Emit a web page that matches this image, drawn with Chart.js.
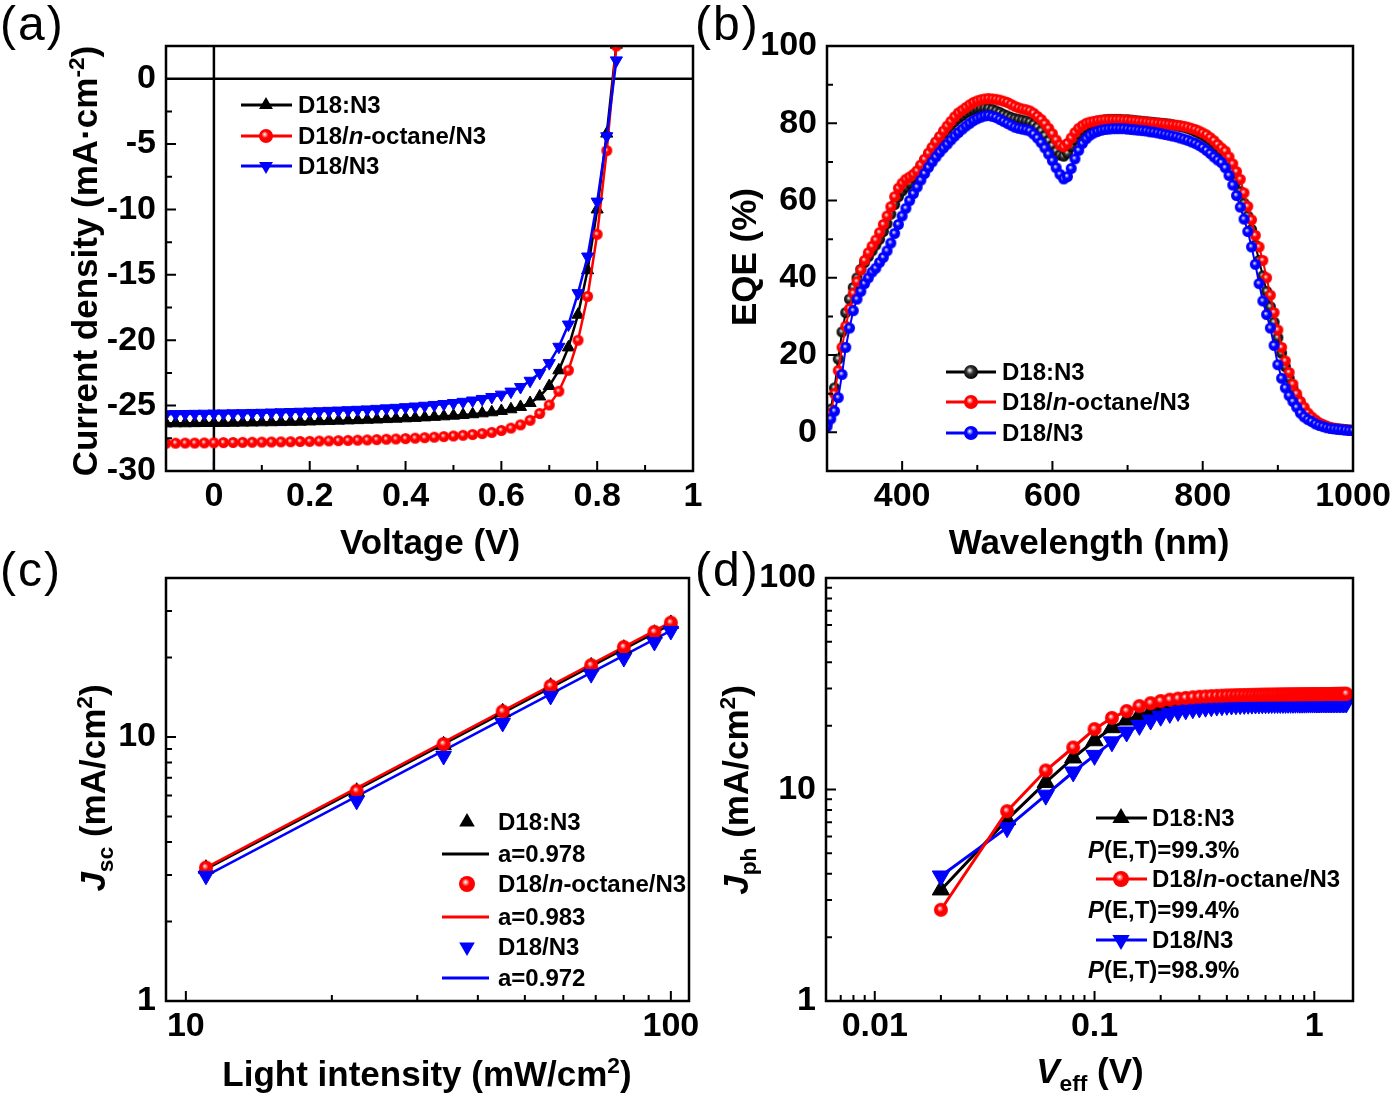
<!DOCTYPE html>
<html>
<head>
<meta charset="utf-8">
<script src="https://cdn.jsdelivr.net/npm/chart.js@4.4.0/dist/chart.umd.min.js"></script>
<style>
body { margin: 0; background: #fff; }
#fig { position: relative; width: 1396px; height: 1098px; overflow: hidden; font-family: "Liberation Sans", Arial, sans-serif; color: #000; }
canvas { position: absolute; }
.t { position: absolute; white-space: nowrap; font-weight: bold; font-size: 35px; line-height: 1; transform: translate(-50%, -50%); }
.r { transform: translate(-50%, -50%) rotate(-90deg); }
.lab { position: absolute; font-size: 48px; line-height: 1; letter-spacing: 2px; }
.lg { position: absolute; white-space: nowrap; font-weight: bold; font-size: 24px; line-height: 1; transform: translateY(-50%); }
sub, sup { font-size: 0.65em; line-height: 0; }
#sym { position: absolute; left: 0; top: 0; }
</style>
</head>
<body>
<div id="fig">
  <canvas id="cA"></canvas>
  <canvas id="cB"></canvas>
  <canvas id="cC"></canvas>
  <canvas id="cD"></canvas>
  <svg id="sym" width="1396" height="1098"></svg>

  <div class="lab" style="left:0px;top:0px">(a)</div>
  <div class="lab" style="left:695px;top:0px">(b)</div>
  <div class="lab" style="left:0px;top:546px">(c)</div>
  <div class="lab" style="left:695px;top:546px">(d)</div>

  <div class="t r" style="left:84px;top:261px">Current density (mA·cm<sup>-2</sup>)</div>
  <div class="t" style="left:430px;top:541px">Voltage (V)</div>
  <div class="t r" style="left:743px;top:257px">EQE (%)</div>
  <div class="t" style="left:1089px;top:541px">Wavelength (nm)</div>
  <div class="t r" style="left:92px;top:788px"><i>J</i><sub>sc</sub> (mA/cm<sup>2</sup>)</div>
  <div class="t" style="left:427px;top:1073px">Light intensity (mW/cm<sup>2</sup>)</div>
  <div class="t r" style="left:735px;top:790px"><i>J</i><sub>ph</sub> (mA/cm<sup>2</sup>)</div>
  <div class="t" style="left:1090px;top:1070px"><i>V</i><sub>eff</sub> (V)</div>
</div>
<script>
// (a) J-V curves
const voltage = [-0.10, -0.08, -0.06, -0.04, -0.02, 0, 0.02, 0.04, 0.06, 0.08,
  0.10, 0.12, 0.14, 0.16, 0.18, 0.20, 0.22, 0.24, 0.26, 0.28,
  0.30, 0.32, 0.34, 0.36, 0.38, 0.40, 0.42, 0.44, 0.46, 0.48,
  0.50, 0.52, 0.54, 0.56, 0.58, 0.60, 0.62, 0.64, 0.66, 0.68,
  0.70, 0.72, 0.74, 0.76, 0.78, 0.80, 0.82, 0.84];
const jvBlack = [-26.36, -26.35, -26.35, -26.34, -26.33, -26.33, -26.32, -26.31, -26.30, -26.29,
  -26.28, -26.27, -26.26, -26.24, -26.23, -26.21, -26.19, -26.17, -26.15, -26.13,
  -26.11, -26.08, -26.06, -26.03, -26.00, -25.97, -25.94, -25.90, -25.86, -25.82,
  -25.77, -25.72, -25.66, -25.59, -25.51, -25.41, -25.28, -25.10, -24.80, -24.30,
  -23.50, -22.30, -20.55, -18.05, -14.65, -10.00, -4.20, 2.60];
const jvRed = [-27.88, -27.87, -27.86, -27.86, -27.85, -27.84, -27.83, -27.82, -27.81, -27.80,
  -27.79, -27.78, -27.77, -27.76, -27.74, -27.73, -27.71, -27.70, -27.68, -27.66,
  -27.64, -27.62, -27.60, -27.57, -27.55, -27.52, -27.49, -27.45, -27.41, -27.37,
  -27.32, -27.27, -27.21, -27.14, -27.05, -26.90, -26.72, -26.47, -26.12, -25.60,
  -24.95, -23.90, -22.30, -20.00, -16.65, -11.90, -5.50, 2.50];
const jvBlue = [-25.66, -25.65, -25.64, -25.63, -25.62, -25.61, -25.60, -25.59, -25.58, -25.56,
  -25.55, -25.53, -25.51, -25.49, -25.47, -25.45, -25.43, -25.40, -25.38, -25.35,
  -25.32, -25.29, -25.25, -25.21, -25.17, -25.12, -25.07, -25.01, -24.95, -24.88,
  -24.80, -24.71, -24.61, -24.49, -24.34, -24.16, -23.93, -23.58, -23.10, -22.50,
  -21.75, -20.50, -18.80, -16.40, -13.60, -9.40, -4.40, 1.40];

// (b) EQE spectra
const wavelength = [300, 305, 310, 315, 320, 325, 330, 335, 340, 345, 350, 355, 360, 365, 370, 375, 380, 385, 390, 395,
  400, 405, 410, 415, 420, 425, 430, 435, 440, 445, 450, 455, 460, 465, 470, 475, 480, 485, 490, 495,
  500, 505, 510, 515, 520, 525, 530, 535, 540, 545, 550, 555, 560, 565, 570, 575, 580, 585, 590, 595,
  600, 605, 610, 615, 620, 625, 630, 635, 640, 645, 650, 655, 660, 665, 670, 675, 680, 685, 690, 695,
  700, 705, 710, 715, 720, 725, 730, 735, 740, 745, 750, 755, 760, 765, 770, 775, 780, 785, 790, 795,
  800, 805, 810, 815, 820, 825, 830, 835, 840, 845, 850, 855, 860, 865, 870, 875, 880, 885, 890, 895,
  900, 905, 910, 915, 920, 925, 930, 935, 940, 945, 950, 955, 960, 965, 970, 975, 980, 985, 990, 995,
  1000];
const eqeBlack = [2.5, 6, 11.5, 19, 26, 31, 34.5, 37.5, 40, 42.2, 44, 45.5, 47, 48.5, 50, 52, 54, 56.5, 59, 61,
  62.5, 63.5, 64.5, 66, 67.5, 69, 70.5, 72, 73.5, 75, 76.2, 77.4, 78.5, 79.5, 80.5, 81.3, 82, 82.7, 83.2, 83.6,
  83.9, 84, 84, 83.9, 83.6, 83.2, 82.8, 82.3, 81.9, 81.5, 81.2, 81, 80.8, 80.6, 80.3, 79.7, 79, 78, 76.8, 75.5,
  74.2, 72.8, 71.8, 71.5, 72.3, 74, 75.8, 77.3, 78.4, 79.2, 79.8, 80.2, 80.5, 80.7, 80.9, 81, 81, 81, 81, 80.9,
  80.9, 80.8, 80.7, 80.6, 80.5, 80.4, 80.3, 80.2, 80.1, 80, 79.9, 79.8, 79.6, 79.4, 79.2, 79, 78.7, 78.3, 77.9, 77.4,
  76.9, 76.3, 75.6, 74.8, 73.8, 72.7, 71.5, 69.8, 67.5, 65, 62.3, 59.3, 56, 52.5, 48.5, 44.5, 40.5, 36.5, 32.5, 28.5,
  24.5, 20.5, 17, 14, 11.3, 9, 7, 5.6, 4.5, 3.6, 2.9, 2.3, 1.9, 1.5, 1.2, 1, 0.9, 0.8, 0.7, 0.6,
  0.5];
const eqeRed = [2, 5, 10, 16, 22, 27.5, 32, 36, 39, 42, 44.5, 46.5, 48.2, 49.8, 51.7, 53.8, 56, 58.4, 61, 63.2,
  64.5, 65.5, 66.1, 66.8, 67.7, 69.2, 70.7, 72.3, 73.8, 75.2, 76.6, 78, 79.3, 80.5, 81.7, 82.7, 83.4, 84.1, 84.8, 85.4,
  85.8, 86.1, 86.3, 86.4, 86.3, 86.2, 86, 85.7, 85.4, 84.9, 84.4, 84, 83.7, 83.5, 83.2, 82.6, 81.8, 81, 79.9, 78.7,
  77.3, 75.7, 74.4, 73.9, 74.8, 76.2, 77.6, 78.7, 79.4, 80, 80.3, 80.5, 80.7, 80.8, 80.9, 80.9, 80.9, 80.9, 80.9, 80.8,
  80.8, 80.7, 80.6, 80.5, 80.4, 80.3, 80.2, 80.1, 80, 79.9, 79.8, 79.7, 79.6, 79.5, 79.4, 79.2, 79, 78.7, 78.4, 78,
  77.5, 77, 76.3, 75.5, 74.5, 73.6, 72.8, 71.3, 69.5, 67.5, 65.5, 62, 58.5, 55, 51, 48, 44.5, 40, 35.5, 31,
  26.5, 22, 18.5, 15.5, 12.5, 10, 8, 6.5, 5, 4, 3.2, 2.5, 2, 1.6, 1.3, 1.1, 0.9, 0.8, 0.7, 0.6,
  0.5];
const eqeBlue = [1.5, 3.5, 5.5, 9, 15, 22, 27, 31.5, 34.5, 36.5, 38.5, 40, 41.5, 42.5, 44, 45.3, 47, 49, 51.5, 53.8,
  56, 58, 60, 61.8, 63.5, 65.3, 67, 68.6, 70, 71.3, 72.5, 73.6, 74.6, 75.7, 76.7, 77.6, 78.5, 79.3, 80, 80.7,
  81.2, 81.6, 81.9, 82, 81.8, 81.5, 81, 80.5, 80, 79.5, 79, 78.7, 78.5, 78.3, 78, 77.2, 76.2, 75, 73.6, 72,
  70.3, 68.5, 66.8, 65.6, 66.2, 68.3, 70.8, 73, 74.8, 76, 76.9, 77.5, 77.9, 78.2, 78.4, 78.5, 78.6, 78.6, 78.6, 78.6,
  78.5, 78.4, 78.3, 78.2, 78.1, 78, 77.8, 77.7, 77.5, 77.3, 77.1, 76.9, 76.7, 76.5, 76.2, 75.9, 75.6, 75.2, 74.8, 74.3,
  73.7, 73, 72.2, 71.3, 70.5, 69.8, 68.5, 66.5, 64, 61.3, 58.3, 55.2, 52, 48, 43.5, 38.5, 34, 30.5, 27, 22.5,
  17.5, 14, 11.5, 9.5, 8, 6.5, 5, 4, 3.3, 2.8, 2.2, 1.8, 1.5, 1.2, 1, 0.9, 0.8, 0.7, 0.6, 0.5,
  0.5];

// (c) Jsc vs light intensity
const lightIntensity = [11, 22.5, 34, 45, 56.5, 68.5, 80, 92.5, 100];
const jscBlack = [3.17, 6.2, 9.3, 12.4, 15.5, 18.5, 21.6, 24.6, 26.8];
const jscRed = [3.2, 6.25, 9.4, 12.5, 15.6, 18.7, 21.9, 25.0, 27.1];
const jscBlue = [2.98, 5.73, 8.47, 11.3, 14.3, 17.3, 19.9, 22.9, 25.2];
const fitX = [11, 100];
const fitBlack = [3.16, 26.7];
const fitRed = [3.2, 27.2];
const fitBlue = [2.98, 25.3];

// (d) Jph vs Veff
const veff = [0.02, 0.04, 0.06, 0.08, 0.10, 0.12, 0.14, 0.16, 0.18, 0.20,
  0.22, 0.24, 0.26, 0.28, 0.30, 0.32, 0.34, 0.36, 0.38, 0.40,
  0.42, 0.44, 0.46, 0.48, 0.50, 0.52, 0.54, 0.56, 0.58, 0.60,
  0.62, 0.64, 0.66, 0.68, 0.70, 0.72, 0.74, 0.76, 0.78, 0.80,
  0.82, 0.84, 0.86, 0.88, 0.90, 0.92, 0.94, 0.96, 0.98, 1.00,
  1.02, 1.04, 1.06, 1.08, 1.10, 1.12, 1.14, 1.16, 1.18, 1.20,
  1.22, 1.24, 1.26, 1.28, 1.30, 1.32, 1.34, 1.36, 1.38, 1.40];
const jphBlack = [3.35, 7.2, 10.8, 14.1, 17.0, 19.6, 21.3, 22.5, 23.4, 24.1,
  24.6, 25.0, 25.3, 25.6, 25.8, 26.0, 26.1, 26.2, 26.3, 26.4,
  26.45, 26.5, 26.54, 26.57, 26.6, 26.62, 26.64, 26.66, 26.68, 26.7,
  26.71, 26.72, 26.73, 26.74, 26.75, 26.76, 26.77, 26.78, 26.79, 26.8,
  26.8, 26.81, 26.82, 26.82, 26.83, 26.84, 26.84, 26.85, 26.85, 26.86,
  26.86, 26.87, 26.87, 26.88, 26.88, 26.89, 26.89, 26.9, 26.9, 26.9,
  26.91, 26.91, 26.92, 26.92, 26.93, 26.93, 26.94, 26.94, 26.95, 26.95];
const jphRed = [2.7, 7.9, 12.3, 15.8, 19.3, 21.8, 23.5, 24.8, 25.6, 26.2,
  26.6, 26.9, 27.1, 27.3, 27.45, 27.55, 27.65, 27.72, 27.78, 27.85,
  27.9, 27.93, 27.96, 27.99, 28.01, 28.03, 28.05, 28.07, 28.08, 28.1,
  28.11, 28.12, 28.13, 28.14, 28.15, 28.16, 28.17, 28.18, 28.19, 28.2,
  28.2, 28.21, 28.22, 28.22, 28.23, 28.24, 28.24, 28.25, 28.25, 28.26,
  28.26, 28.27, 28.27, 28.28, 28.28, 28.29, 28.29, 28.3, 28.3, 28.3,
  28.31, 28.31, 28.32, 28.32, 28.33, 28.33, 28.34, 28.34, 28.35, 28.35];
const jphBlue = [3.9, 6.6, 9.4, 12.1, 14.5, 16.8, 18.7, 20.1, 21.3, 22.2,
  22.9, 23.4, 23.8, 24.1, 24.3, 24.5, 24.65, 24.8, 24.9, 25.0,
  25.08, 25.14, 25.2, 25.25, 25.29, 25.33, 25.36, 25.39, 25.41, 25.43,
  25.45, 25.47, 25.48, 25.5, 25.51, 25.52, 25.53, 25.54, 25.55, 25.56,
  25.57, 25.58, 25.58, 25.59, 25.6, 25.6, 25.61, 25.62, 25.62, 25.63,
  25.63, 25.64, 25.64, 25.65, 25.65, 25.66, 25.66, 25.67, 25.67, 25.67,
  25.68, 25.68, 25.69, 25.69, 25.69, 25.7, 25.7, 25.7, 25.71, 25.71];

const FONT = '"Liberation Sans", Arial, sans-serif';
const BLACK = '#000000', RED = '#ff0000', BLUE = '#0000ff';
const PADTOP = 40, YW = 80, XH = 60;

const pts = (xs, ys) => xs.map((x, i) => ({x: x, y: ys[i]}));

// shaded ball used for the circle markers
function ball(color, r) {
  const c = document.createElement('canvas');
  const s = Math.ceil(2 * r + 2);
  c.width = c.height = s;
  const g = c.getContext('2d'), m = s / 2;
  const gr = g.createRadialGradient(m - r * 0.2, m - r * 0.25, 0, m, m, r);
  gr.addColorStop(0, '#ffffff');
  gr.addColorStop(0.45, color === BLACK ? '#333333' : color);
  gr.addColorStop(1, color);
  g.fillStyle = gr;
  g.beginPath(); g.arc(m, m, r, 0, Math.PI * 2); g.fill();
  return c;
}

// box + inward ticks + optional zero lines
const frame = {
  id: 'frame',
  beforeDatasetsDraw(chart, args, o) {
    if (!o.zero) return;
    const {ctx, chartArea: a, scales: {x, y}} = chart;
    ctx.save();
    ctx.strokeStyle = '#000'; ctx.lineWidth = 2.5;
    const px = x.getPixelForValue(0), py = y.getPixelForValue(0);
    ctx.beginPath();
    ctx.moveTo(px, a.top); ctx.lineTo(px, a.bottom);
    ctx.moveTo(a.left, py); ctx.lineTo(a.right, py);
    ctx.stroke();
    ctx.restore();
  },
  afterDatasetsDraw(chart, args, o) {
    const {ctx, chartArea: a, scales: {x, y}} = chart;
    ctx.save();
    ctx.strokeStyle = '#000';
    ctx.lineWidth = 2.5;
    ctx.strokeRect(a.left, a.top, a.right - a.left, a.bottom - a.top);
    ctx.lineWidth = 2;
    ctx.beginPath();
    const tx = (vals, len) => vals.forEach(v => {
      const p = x.getPixelForValue(v);
      ctx.moveTo(p, a.bottom); ctx.lineTo(p, a.bottom - len);
    });
    const ty = (vals, len) => vals.forEach(v => {
      const p = y.getPixelForValue(v);
      ctx.moveTo(a.left, p); ctx.lineTo(a.left + len, p);
    });
    tx(o.xMajor, 10); tx(o.xMinor, 6);
    ty(o.yMajor, 10); ty(o.yMinor, 6);
    ctx.stroke();
    ctx.restore();
  }
};

function axis(type, min, max, ticks, isX) {
  return {
    type: type, min: min, max: max,
    grid: {display: false, drawTicks: false},
    border: {display: false},
    ticks: {
      color: '#000', font: {family: FONT, size: 34, weight: 'bold'},
      padding: isX ? 5 : 10, autoSkip: false, maxRotation: 0, minRotation: 0,
      callback: v => String(v)
    },
    afterBuildTicks: s => { s.ticks = ticks.map(v => ({value: v})); },
    afterFit: s => { if (isX) s.height = XH; else s.width = YW; }
  };
}

function makeChart(id, area, right, datasets, x, y, marks) {
  const c = document.getElementById(id);
  c.width = area[2] - area[0] + YW + right;
  c.height = area[3] - area[1] + PADTOP + XH;
  const ch = new Chart(c, {
    type: 'scatter',
    data: {datasets: datasets},
    options: {
      responsive: false,
      animation: false,
      layout: {padding: {top: PADTOP, right: right, left: 0, bottom: 0}},
      plugins: {legend: {display: false}, tooltip: {enabled: false}, frame: marks},
      scales: {x: x, y: y}
    },
    plugins: [frame]
  });
  // line the plot box up with the page position
  c.style.left = (area[0] - ch.chartArea.left) + 'px';
  c.style.top = (area[1] - ch.chartArea.top) + 'px';
  return ch;
}

function series(xs, ys, color, style, r, lw, order, extra) {
  return Object.assign({
    data: pts(xs, ys),
    showLine: true,
    borderColor: color,
    backgroundColor: color,
    borderWidth: lw,
    pointStyle: style === 'ball' ? ball(color, r) : 'triangle',
    pointRotation: style === 'dtri' ? 180 : 0,
    pointRadius: r,
    pointBorderWidth: 1,
    pointBorderColor: color,
    pointBackgroundColor: color,
    order: order
  }, extra || {});
}

// (a)
makeChart('cA', [166, 46, 693, 471], 20, [
  series(voltage, jvBlack, BLACK, 'tri', 7, 2.5, 2),
  series(voltage, jvRed, RED, 'ball', 5.5, 2.5, 1),
  series(voltage, jvBlue, BLUE, 'dtri', 7, 2.5, 0)
],
  axis('linear', -0.1, 1.0, [0, 0.2, 0.4, 0.6, 0.8, 1], true),
  axis('linear', -30, 2.5, [-30, -25, -20, -15, -10, -5, 0], false),
  {zero: true, xMajor: [0, 0.2, 0.4, 0.6, 0.8, 1], xMinor: [0.1, 0.3, 0.5, 0.7, 0.9],
   yMajor: [-30, -25, -20, -15, -10, -5], yMinor: [-27.5, -22.5, -17.5, -12.5, -7.5, -2.5]});

// (b)
makeChart('cB', [827, 46, 1353, 471], 43, [
  series(wavelength, eqeBlack, BLACK, 'ball', 5.5, 2, 2),
  series(wavelength, eqeRed, RED, 'ball', 5.5, 2, 1),
  series(wavelength, eqeBlue, BLUE, 'ball', 5.5, 2, 0)
],
  axis('linear', 300, 1000, [400, 600, 800, 1000], true),
  axis('linear', -10, 100, [0, 20, 40, 60, 80, 100], false),
  {xMajor: [400, 600, 800], xMinor: [500, 700, 900],
   yMajor: [0, 20, 40, 60, 80], yMinor: [10, 30, 50, 70, 90]});

// (c)
makeChart('cC', [166, 578, 689, 1001], 37, [
  series(lightIntensity, jscBlack, BLACK, 'tri', 9, 0, 2, {showLine: false}),
  series(fitX, fitBlack, BLACK, 'tri', 0, 2.5, 5, {pointRadius: 0}),
  series(lightIntensity, jscRed, RED, 'ball', 7, 0, 1, {showLine: false}),
  series(fitX, fitRed, RED, 'tri', 0, 2.5, 4, {pointRadius: 0}),
  series(lightIntensity, jscBlue, BLUE, 'dtri', 9, 0, 0, {showLine: false}),
  series(fitX, fitBlue, BLUE, 'tri', 0, 2.5, 3, {pointRadius: 0})
],
  axis('logarithmic', 9.1, 109, [10, 100], true),
  axis('logarithmic', 1, 40, [1, 10], false),
  {xMajor: [10, 100], xMinor: [20, 30, 40, 50, 60, 70, 80, 90],
   yMajor: [10], yMinor: [2, 3, 4, 5, 6, 7, 8, 9, 20, 30]});

// (d)
makeChart('cD', [826, 578, 1353, 1001], 40, [
  series(veff, jphBlack, BLACK, 'tri', 10, 3, 2),
  series(veff, jphRed, RED, 'ball', 7, 3, 0),
  series(veff, jphBlue, BLUE, 'dtri', 10, 3, 1)
],
  axis('logarithmic', 0.006, 1.5, [0.01, 0.1, 1], true),
  axis('logarithmic', 1, 100, [1, 10, 100], false),
  {xMajor: [0.01, 0.1, 1], xMinor: [0.007, 0.008, 0.009, 0.02, 0.03, 0.04, 0.05, 0.06, 0.07, 0.08, 0.09, 0.2, 0.3, 0.4, 0.5, 0.6, 0.7, 0.8, 0.9],
   yMajor: [10], yMinor: [2, 3, 4, 5, 6, 7, 8, 9, 20, 30, 40, 50, 60, 70, 80, 90]});

// legends: symbols in svg, text as html
const OCT = 'D18/<i>n</i>-octane/N3';
const legendRows = [
  {y: 105, x1: 241, x2: 292, mx: 266, m: 'tri', c: BLACK, r: 8, tx: 298, t: 'D18:N3'},
  {y: 136, x1: 241, x2: 292, mx: 266, m: 'ball', c: RED, r: 7, tx: 298, t: OCT},
  {y: 166, x1: 241, x2: 292, mx: 266, m: 'dtri', c: BLUE, r: 8, tx: 298, t: 'D18/N3'},
  {y: 372, x1: 946, x2: 996, mx: 971, m: 'ball', c: BLACK, r: 7, tx: 1002, t: 'D18:N3'},
  {y: 402, x1: 946, x2: 996, mx: 971, m: 'ball', c: RED, r: 7, tx: 1002, t: OCT},
  {y: 433, x1: 946, x2: 996, mx: 971, m: 'ball', c: BLUE, r: 7, tx: 1002, t: 'D18/N3'},
  {y: 822, mx: 467, m: 'tri', c: BLACK, r: 9, tx: 498, t: 'D18:N3'},
  {y: 854, x1: 442, x2: 489, c: BLACK, tx: 498, t: 'a=0.978'},
  {y: 884, mx: 467, m: 'ball', c: RED, r: 8, tx: 498, t: OCT},
  {y: 917, x1: 442, x2: 489, c: RED, tx: 498, t: 'a=0.983'},
  {y: 947, mx: 467, m: 'dtri', c: BLUE, r: 9, tx: 498, t: 'D18/N3'},
  {y: 978, x1: 442, x2: 489, c: BLUE, tx: 498, t: 'a=0.972'},
  {y: 818, x1: 1096, x2: 1147, mx: 1121, m: 'tri', c: BLACK, r: 10, tx: 1152, t: 'D18:N3'},
  {y: 850, tx: 1088, t: '<i>P</i>(E,T)=99.3%'},
  {y: 879, x1: 1096, x2: 1147, mx: 1121, m: 'ball', c: RED, r: 8, tx: 1152, t: OCT},
  {y: 910, tx: 1088, t: '<i>P</i>(E,T)=99.4%'},
  {y: 940, x1: 1096, x2: 1147, mx: 1121, m: 'dtri', c: BLUE, r: 10, tx: 1152, t: 'D18/N3'},
  {y: 970, tx: 1088, t: '<i>P</i>(E,T)=98.9%'}
];

const gradId = {[BLACK]: 'gk', [RED]: 'gr', [BLUE]: 'gb'};
let svg = '<defs>';
[[BLACK, '#333333'], [RED, RED], [BLUE, BLUE]].forEach(([c, mid]) => {
  svg += `<radialGradient id="${gradId[c]}" cx="0.45" cy="0.45" r="0.55" fx="0.4" fy="0.37">` +
    `<stop offset="0" stop-color="#ffffff"/><stop offset="0.45" stop-color="${mid}"/><stop offset="1" stop-color="${c}"/></radialGradient>`;
});
svg += '</defs>';
const fig = document.getElementById('fig');
legendRows.forEach(L => {
  if (L.x1) svg += `<line x1="${L.x1}" y1="${L.y}" x2="${L.x2}" y2="${L.y}" stroke="${L.c}" stroke-width="3"/>`;
  if (L.m === 'tri' || L.m === 'dtri') {
    const s = L.m === 'tri' ? 1 : -1, h = 0.866 * L.r;
    svg += `<polygon points="${L.mx},${L.y - s * L.r} ${L.mx + h},${L.y + s * L.r / 2} ${L.mx - h},${L.y + s * L.r / 2}" fill="${L.c}"/>`;
  } else if (L.m === 'ball') {
    svg += `<circle cx="${L.mx}" cy="${L.y}" r="${L.r}" fill="url(#${gradId[L.c]})"/>`;
  }
  const d = document.createElement('div');
  d.className = 'lg';
  d.style.left = L.tx + 'px';
  d.style.top = L.y + 'px';
  d.innerHTML = L.t;
  fig.appendChild(d);
});
document.getElementById('sym').innerHTML = svg;
</script>
</body>
</html>
